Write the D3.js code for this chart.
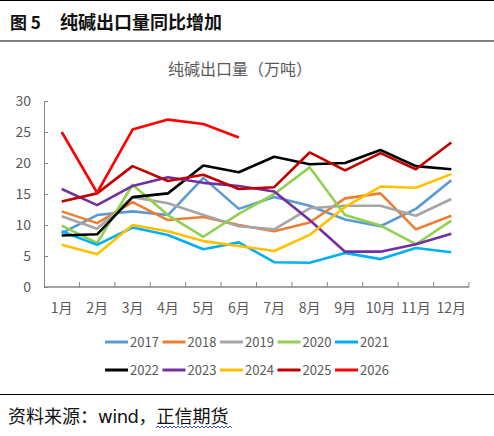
<!DOCTYPE html>
<html>
<head>
<meta charset="utf-8">
<script src="https://d3js.org/d3.v7.min.js"></script>
<style>
  body { margin: 0; background: #fff; }
  text { font-family: "Noto Sans CJK SC", "Noto Sans", sans-serif; }
</style>
</head>
<body>
<svg id="chart" width="494" height="436"></svg>
<script>
// data
const months = ["1月","2月","3月","4月","5月","6月","7月","8月","9月","10月","11月","12月"];
const years = ["2017","2018","2019","2020","2021","2022","2023","2024","2025","2026"];
const colors = ["#5B9BD5","#ED7D31","#A5A5A5","#92D050","#00B0F0","#000000","#7030A0","#FFC000","#C00000","#FF0000"];
const yTicks = [0, 5, 10, 15, 20, 25, 30];

const v2017 = [8.7, 11.6, 12.2, 11.6, 17.6, 12.6, 14.5, 13.1, 10.9, 9.8, 12.6, 17.2];
const v2018 = [12.2, 10.3, 13.7, 10.8, 11.3, 10.0, 9.0, 10.4, 14.3, 15.1, 9.3, 11.5];
const v2019 = [11.4, 9.4, 14.5, 13.5, 11.6, 9.8, 9.3, 12.7, 13.1, 13.1, 11.5, 14.2];
const v2020 = [9.9, 7.1, 16.5, 11.6, 8.1, 11.8, 15.0, 19.3, 11.6, 9.9, 6.9, 10.7];
const v2021 = [9.0, 6.8, 9.6, 8.4, 6.1, 7.2, 4.0, 3.9, 5.5, 4.5, 6.3, 5.6];
const v2022 = [8.3, 8.5, 14.5, 15.1, 19.6, 18.5, 21.0, 19.8, 20.0, 22.1, 19.5, 19.0];
const v2023 = [15.8, 13.2, 16.3, 17.7, 16.8, 16.3, 15.4, 10.8, 5.7, 5.7, 6.9, 8.6];
const v2024 = [6.8, 5.3, 10.0, 9.0, 7.4, 6.6, 5.8, 8.4, 12.9, 16.2, 16.0, 18.2];
const v2025 = [13.8, 15.1, 19.5, 17.1, 18.1, 15.8, 16.1, 21.7, 18.8, 21.6, 19.0, 23.3];
const v2026 = [25.0, 15.2, 25.4, 27.0, 26.3, 24.1];

const seriesValues = [v2017, v2018, v2019, v2020, v2021, v2022, v2023, v2024, v2025, v2026];

const svg = d3.select("#chart");

// header
svg.append("line").attr("x1", 0).attr("x2", 494).attr("y1", 0.5).attr("y2", 0.5)
   .attr("stroke", "#000").attr("stroke-width", 1.2);
svg.append("line").attr("x1", 0).attr("x2", 494).attr("y1", 41).attr("y2", 41)
   .attr("stroke", "#000").attr("stroke-width", 1.2);
svg.append("text").attr("x", 10).attr("y", 29)
   .attr("font-size", 17).attr("font-weight", "bold").attr("fill", "#111")
   .text("图 5");
svg.append("text").attr("x", 60).attr("y", 29)
   .attr("font-size", 18).attr("font-weight", "bold").attr("fill", "#111")
   .text("纯碱出口量同比增加");

// chart title
svg.append("text").attr("x", 240).attr("y", 75).attr("text-anchor", "middle")
   .attr("font-size", 16).attr("fill", "#595959")
   .text("纯碱出口量（万吨）");

// scales
const x = d3.scaleBand().domain(months).range([44, 469]);
const y = d3.scaleLinear().domain([0, 30]).range([287, 101]);

// y axis
const yAxis = svg.append("g").attr("transform", "translate(44,0)")
   .call(d3.axisRight(y).tickValues(yTicks).tickSize(4).tickFormat(""));
yAxis.select(".domain").attr("stroke", "#868686");
yAxis.selectAll(".tick line").attr("stroke", "#868686");
svg.append("g").selectAll("text").data(yTicks).join("text")
   .attr("x", 31).attr("y", d => y(d) + 5).attr("text-anchor", "end")
   .attr("font-size", 14).attr("fill", "#595959")
   .text(d => d);

// x axis
const xAxis = svg.append("g").attr("transform", "translate(0,287)");
xAxis.append("line").attr("x1", 44).attr("x2", 469).attr("y1", 0).attr("y2", 0)
   .attr("stroke", "#868686").attr("stroke-width", 1.5);
xAxis.selectAll("line.tk").data(months).join("line").attr("class", "tk")
   .attr("x1", d => x(d) + x.bandwidth()).attr("x2", d => x(d) + x.bandwidth())
   .attr("y1", 0).attr("y2", -5).attr("stroke", "#868686");
svg.append("g").selectAll("text").data(months).join("text")
   .attr("x", d => x(d) + x.bandwidth() / 2).attr("y", 313)
   .attr("text-anchor", "middle").attr("font-size", 14).attr("fill", "#595959")
   .text(d => d);

// lines
const line = d3.line()
   .x((d, i) => x(months[i]) + x.bandwidth() / 2)
   .y(d => y(d));
svg.append("g").selectAll("path").data(seriesValues).join("path")
   .attr("d", d => line(d))
   .attr("fill", "none")
   .attr("stroke", (d, i) => colors[i])
   .attr("stroke-width", 2.6)
   .attr("stroke-linejoin", "round");

// legend
const legend = svg.append("g");
const item = legend.selectAll("g").data(years).join("g")
   .attr("transform", (d, i) => `translate(${105 + (i % 5) * 57.5},${i < 5 ? 342 : 370})`);
item.append("line").attr("x1", 0).attr("x2", 23).attr("y1", 0).attr("y2", 0)
   .attr("stroke", (d, i) => colors[i]).attr("stroke-width", 3);
item.append("text").attr("x", 25).attr("y", 5).attr("font-size", 13)
   .attr("fill", "#595959").text(d => d);

// footer
svg.append("line").attr("x1", 0).attr("x2", 494).attr("y1", 394.5).attr("y2", 394.5)
   .attr("stroke", "#000").attr("stroke-width", 1.2);
const src = svg.append("text").attr("x", 8).attr("y", 423).attr("font-size", 18).attr("fill", "#111");
src.append("tspan").text("资料来源：");
src.append("tspan").attr("font-family", "DejaVu Sans").attr("textLength", 41).text("wind");
src.append("tspan").text("，正信期货");
// wavy spell-check underline
let wave = "M156,428";
for (let px = 156; px < 230; px += 4) wave += ` l2,-2 l2,2`;
svg.append("path").attr("d", wave).attr("fill", "none").attr("stroke", "#3b4fd8").attr("stroke-width", 1);
</script>
</body>
</html>
